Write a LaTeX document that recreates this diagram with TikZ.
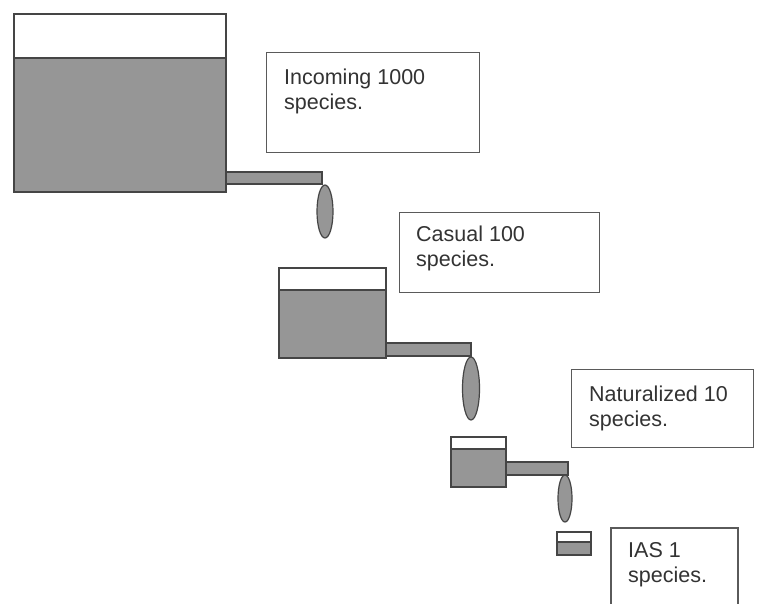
\documentclass[tikz,border=0pt]{standalone}
\usepackage{fontspec}
\setmainfont{Liberation Sans}
\usetikzlibrary{shapes.geometric}
\definecolor{water}{HTML}{969696}
\definecolor{edge}{HTML}{454545}
\definecolor{boxedge}{HTML}{5A5A5A}
\definecolor{txt}{HTML}{333333}
\begin{document}
\begin{tikzpicture}[x=1pt,y=-1pt,
  tankwall/.style={draw=edge,line width=1.3pt},
  waterfill/.style={fill=water,draw=edge,line width=1.3pt},
  pipe/.style={fill=water,draw=edge,line width=1.2pt},
  drop/.style={fill=water,draw=edge,line width=1.2pt},
  labelbox/.style={draw=boxedge,line width=1.3pt},
  labeltext/.style={anchor=base west,inner sep=0pt,text=txt,
    font=\fontsize{21.5}{25.5}\selectfont}]
\useasboundingbox (0,0) rectangle (757,603);
\fill[white] (0,0) rectangle (757,603);

% tank 1
\path[waterfill] (14,58) rectangle (226,192);
\path[tankwall] (14,58) -- (14,14) -- (226,14) -- (226,58);
\path[pipe] (226,172) rectangle (322,184);
\node[drop,ellipse,minimum width=16pt,minimum height=53pt,inner sep=0pt] (d1) at (325,211.5) {};

% label 1
\node[labelbox,anchor=north west,minimum width=213pt,minimum height=100pt,inner sep=0pt] (b1) at (266,52) {};
\node[labeltext] (l1) at (284,84) {\vtop{\hbox{Incoming 1000}\hbox{species.}}};

% tank 2
\path[waterfill] (279,290) rectangle (386,358);
\path[tankwall] (279,290) -- (279,268) -- (386,268) -- (386,290);
\path[pipe] (386,343) rectangle (471,356);
\node[drop,ellipse,minimum width=17pt,minimum height=63pt,inner sep=0pt] (d2) at (471,388.5) {};

% label 2
\node[labelbox,anchor=north west,minimum width=200pt,minimum height=80pt,inner sep=0pt] (b2) at (399,212) {};
\node[labeltext] (l2) at (416,241) {\vtop{\hbox{Casual 100}\hbox{species.}}};

% tank 3
\path[waterfill] (451,449) rectangle (506,487);
\path[tankwall] (451,449) -- (451,437) -- (506,437) -- (506,449);
\path[pipe] (506,462) rectangle (568,475);
\node[drop,ellipse,minimum width=14pt,minimum height=47pt,inner sep=0pt] (d3) at (565,498.5) {};

% label 3
\node[labelbox,anchor=north west,minimum width=182pt,minimum height=78pt,inner sep=0pt] (b3) at (571,369) {};
\node[labeltext] (l3) at (589,401) {\vtop{\hbox{Naturalized 10}\hbox{species.}}};

% tank 4
\path[waterfill] (557,542) rectangle (591,555);
\path[tankwall] (557,542) -- (557,532) -- (591,532) -- (591,542);

% label 4 (open at the bottom edge)
\coordinate (b4a) at (611,610);
\coordinate (b4b) at (738,610);
\draw[boxedge,line width=1.3pt] (b4a) -- (611,528) -- (738,528) -- (b4b);
\node[labeltext] (l4) at (628,557) {\vtop{\hbox{IAS 1}\hbox{species.}}};
\end{tikzpicture}
\end{document}
